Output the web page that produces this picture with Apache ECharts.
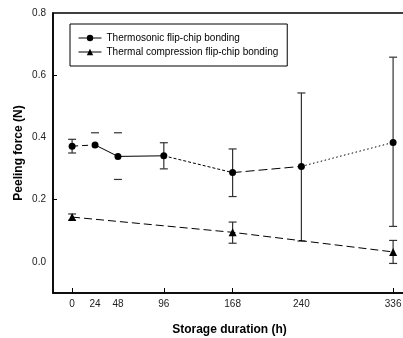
<!DOCTYPE html>
<html><head><meta charset="utf-8">
<script src="https://cdn.jsdelivr.net/npm/echarts@6/dist/echarts.min.js"></script>
<style>html,body{margin:0;padding:0;background:#fff}#c{width:403px;height:338px}</style>
</head><body><div id="c"></div>
<script>
// ---- data ----
const hours = [0, 24, 48, 96, 168, 240, 336];
const tsMean = [0.372, 0.376, 0.339, 0.341, 0.287, 0.307, 0.384];
const tsLow  = [0.350, null, 0.265, 0.299, 0.210, 0.067, 0.114];
const tsHigh = [0.394, 0.415, 0.415, 0.383, 0.363, 0.543, 0.658];
const tsStem = [true, false, false, true, true, true, true];
const tcHours = [0, 168, 336];
const tcMean = [0.144, 0.095, 0.032];
const tcLow  = [0.134, 0.060, -0.005];
const tcHigh = [0.154, 0.128, 0.069];
const xLabels = [0, 24, 48, 96, 168, 240, 336];
const xTicks = [0, 96, 168, 336];
const yLabels = [0, 0.2, 0.4, 0.6, 0.8];
const yTicks = [0.2, 0.6];
const nameTS = 'Thermosonic flip-chip bonding';
const nameTC = 'Thermal compression flip-chip bonding';
// segment line styles for thermosonic curve
const tsSegTypes = [[6, 4], 'solid', 'solid', [3, 2], [9, 4], [1.5, 2.5]];

const FONT = "'Liberation Sans', Arial, sans-serif";

function errSeries(xs, lo, hi, stem) {
  return {
    type: 'custom', z: 2, silent: true,
    data: xs.map((x, i) => [x, lo[i], hi[i], stem ? (stem[i] ? 1 : 0) : 1]),
    renderItem: function (params, api) {
      const x = api.value(0), l = api.value(1), h = api.value(2), s = api.value(3);
      const children = [];
      const st = { stroke: '#333', lineWidth: 1.2 };
      const w = 4;
      const ph = api.coord([x, h]);
      children.push({ type: 'line', shape: { x1: ph[0] - w, y1: ph[1], x2: ph[0] + w, y2: ph[1] }, style: st });
      if (l !== null && !isNaN(l)) {
        const pl = api.coord([x, l]);
        children.push({ type: 'line', shape: { x1: pl[0] - w, y1: pl[1], x2: pl[0] + w, y2: pl[1] }, style: st });
        if (s) children.push({ type: 'line', shape: { x1: ph[0], y1: ph[1], x2: pl[0], y2: pl[1] }, style: st });
      }
      return { type: 'group', children: children };
    }
  };
}

const series = [];
series.push(errSeries(hours, tsLow, tsHigh, tsStem));
series.push(errSeries(tcHours, tcLow, tcHigh, null));
for (let i = 0; i < hours.length - 1; i++) {
  series.push({
    type: 'line', name: 'seg' + i, silent: true, symbol: 'none', z: 3,
    data: [[hours[i], tsMean[i]], [hours[i + 1], tsMean[i + 1]]],
    lineStyle: { color: '#000', width: 1, type: tsSegTypes[i] }
  });
}
series.push({
  type: 'line', name: nameTS, z: 5,
  data: hours.map((h, i) => [h, tsMean[i]]),
  symbol: 'circle', symbolSize: 7,
  itemStyle: { color: '#000' },
  lineStyle: { opacity: 0 }
});
series.push({
  type: 'line', name: nameTC, z: 5,
  data: tcHours.map((h, i) => [h, tcMean[i]]),
  symbol: 'triangle', symbolSize: 8,
  itemStyle: { color: '#000' },
  lineStyle: { color: '#000', width: 1, type: [8, 4] }
});

const chart = echarts.init(document.getElementById('c'), null, { renderer: 'canvas' });
chart.setOption({
  animation: false,
  backgroundColor: '#fff',
  textStyle: { fontFamily: FONT },
  grid: { left: 53, top: 13, right: -3, bottom: 45, show: true, borderColor: '#000', borderWidth: 1.5,
    containLabel: false, outerBoundsMode: 'none' },
  legend: {
    data: [nameTS, nameTC],
    orient: 'vertical', left: 70, top: 24,
    padding: [9, 9, 9, 8], itemGap: 4, itemWidth: 23, itemHeight: 8,
    borderColor: '#000', borderWidth: 1,
    textStyle: { fontSize: 10, color: '#000', fontFamily: FONT },
    lineStyle: { opacity: 1, type: 'solid', width: 1, color: '#000' }
  },
  xAxis: {
    type: 'value', min: -20, max: 349.5,
    name: 'Storage duration (h)', nameLocation: 'middle', nameGap: 31,
    nameTextStyle: { fontSize: 12, fontWeight: 'bold', color: '#000', fontFamily: FONT },
    axisLine: { onZero: false, lineStyle: { color: '#000', width: 1.5 } },
    axisTick: { inside: true, length: 5, lineStyle: { color: '#000' }, customValues: xTicks },
    axisLabel: { fontSize: 10, color: '#222', margin: 6, customValues: xLabels, fontFamily: FONT },
    splitLine: { show: false }
  },
  yAxis: {
    type: 'value', min: -0.1, max: 0.8,
    name: 'Peeling force (N)', nameLocation: 'middle', nameGap: 28, nameMoveOverlap: false,
    nameTextStyle: { fontSize: 12, fontWeight: 'bold', color: '#000', fontFamily: FONT },
    axisLine: { show: true, onZero: false, lineStyle: { color: '#000', width: 1.5 } },
    axisTick: { show: true, inside: true, length: 4, lineStyle: { color: '#000' }, customValues: yTicks },
    axisLabel: { fontSize: 10, color: '#222', margin: 7, customValues: yLabels, fontFamily: FONT,
      formatter: v => v.toFixed(1) },
    splitLine: { show: false }
  },
  series: series
});
</script></body></html>
